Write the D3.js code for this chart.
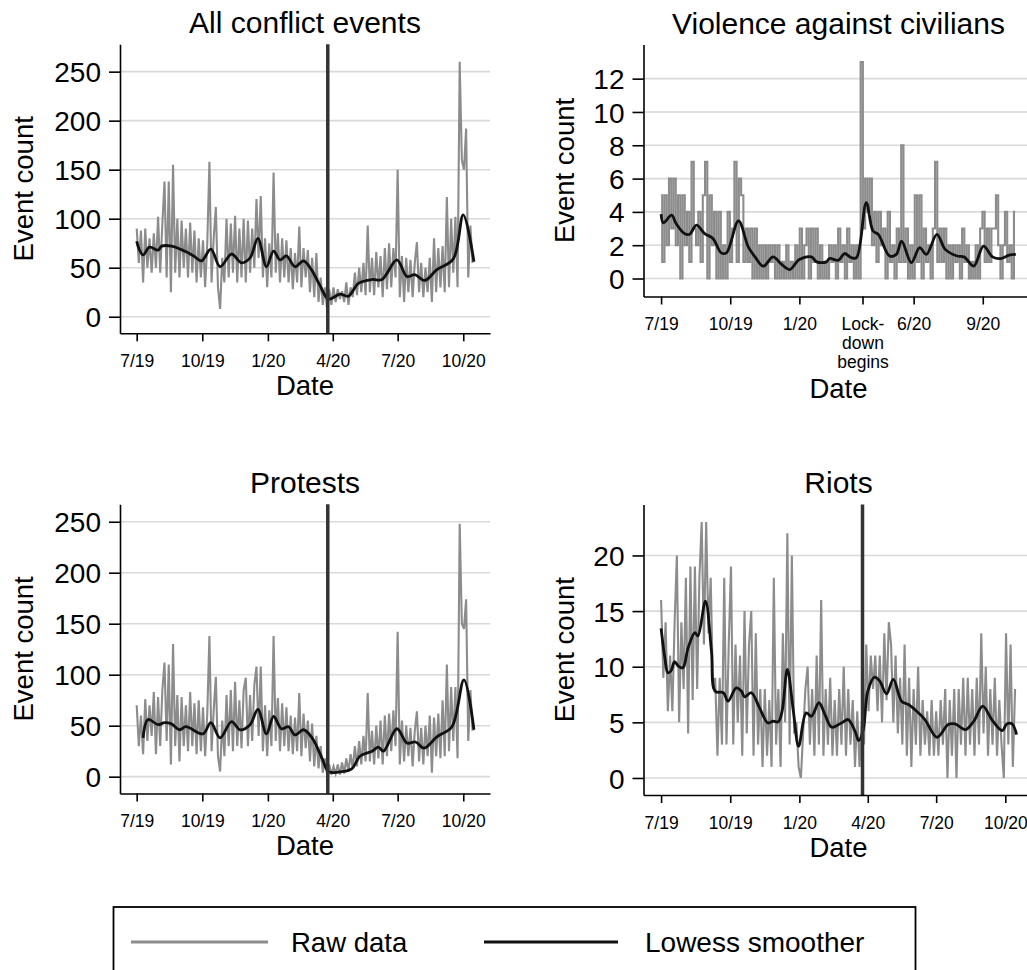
<!DOCTYPE html>
<html><head><meta charset="utf-8">
<script src="https://cdn.jsdelivr.net/npm/d3@7"></script>
<style>
body{margin:0;background:#fff}
svg{display:block}
text{font-family:"Liberation Sans",Arial,Helvetica,sans-serif;fill:#000}
</style>
</head><body>
<svg id="c" width="1027" height="970"></svg>
<script>
// ---------- DATA ----------
// Raw daily counts, sampled every 3 days starting 1 July 2019
const rawStepDays = 3;
const rawAllConflict = [90,55,88,35,90,50,80,45,85,50, 102,45,95,138,40,138,25,155,45,100, 40,98,50,90,40,96,45,88,35,80, 40,78,30,75,158,35,80,112,30,8, 60,35,100,40,95,45,103,35,90,40, 100,35,98,45,90,50,120,60,123,40, 80,30,75,40,147,45,85,35,80,40, 78,35,70,28,65,35,92,30,70,40, 68,25,60,20,65,15,40,12,30,8, 28,12,30,15,28,18,26,15,35,12, 30,20,45,22,50,25,55,22,93,25, 60,22,66,30,62,20,70,28,75,30, 70,40,150,20,62,15,60,25,58,20, 55,76,25,55,20,50,25,60,15,80, 25,70,30,72,25,122,30,100,45,102, 30,260,160,150,192,40,93,55];
const rawViolence = [5,1,5,2,6,3,6,2,5,0, 5,2,4,1,7,3,2,4,1,5, 7,0,5,2,4,0,4,0,2,0, 4,1,3,7,1,6,5,1,3,1, 3,0,3,0,2,0,2,0,2,1, 2,0,2,0,1,0,2,0,1,0, 2,0,3,0,2,3,0,3,1,3, 0,2,0,1,0,2,1,2,0,3, 1,2,0,3,1,2,0,2,0,13, 3,6,4,6,2,4,1,4,2,3, 0,4,1,2,0,3,1,8,1,3, 0,2,0,5,1,5,0,3,1,2, 0,3,7,1,3,1,3,0,2,0, 2,1,2,0,3,1,2,0,1,0, 2,0,3,4,1,3,1,3,3,5, 2,0,2,4,1,2,0,4];
const rawProtests = [70,30,60,22,76,35,70,40,83,22, 78,30,85,112,35,110,12,130,30,80, 15,78,30,70,25,83,30,72,22,75, 25,68,20,62,138,25,65,98,20,5, 55,20,80,30,85,25,93,30,75,28, 85,97,30,80,35,90,108,40,108,25, 70,20,65,30,138,35,77,25,72,30, 68,25,60,22,58,25,82,20,62,28, 55,15,52,10,40,8,30,4,18,2, 12,2,10,3,12,2,14,3,18,5, 22,8,30,10,35,12,40,15,82,15, 45,12,50,18,55,12,60,20,62,25, 65,30,142,12,55,15,50,20,48,10, 45,64,15,48,12,50,20,60,4,58, 20,62,18,75,20,110,25,88,35,88, 18,248,150,145,174,35,85,45];
const rawRiots = [16,9,14,6,11,6,14,20,5,14, 8,18,4,19,7,19,8,18,23,12, 23,13,18,8,9,2,9,3,18,3, 12,19,3,12,5,11,2,15,4,12, 15,2,13,3,8,1,8,2,7,1, 18,3,8,1,13,5,22,3,20,4, 5,1,0,4,8,10,3,8,2,11, 3,16,2,8,3,9,2,7,2,8, 3,10,2,8,3,7,1,6,1,5, 3,12,6,11,8,11,6,11,5,13, 7,14,12,5,11,4,9,3,12,2, 9,1,8,3,10,2,7,3,6,2, 7,2,6,2,7,3,8,0,7,2, 8,0,8,3,9,2,9,3,8,2, 9,3,13,4,10,2,8,3,9,2, 7,3,0,13,3,12,1,8];

// Lowess smoother: day offsets (from 1 July 2019) and values
const smoothAllDays = [0,4,9,18,30,35,49,67,80,91,104,117,133,147,159,170,182,192,201,210,222,234,245,257,269,285,297,311,330,344,365,379,390,404,421,444,458,473];
const smoothAll     = [77,68,63,71,68,72,72,67,62,57,69,51,64,55,60,80,51,67,58,62,51,57,48,32,18,23,21,34,38,38,58,41,43,37,48,59,104,56];
const smoothViolDays = [0,3,14,20,31,38,47,58,69,80,87,103,116,125,136,149,160,171,184,200,207,220,224,236,244,253,260,273,282,289,304,313,320,333,344,353,367,378,394,403,416,429,441,452,463,472];
const smoothViol     = [3.86,3.34,3.8,3.3,2.7,2.66,3.2,2.7,2.4,1.54,1.54,3.46,1.9,1.3,0.74,1.3,0.86,0.54,1.14,1.3,1.0,1.0,1.2,1.1,1.5,1.25,1.25,4.56,2.85,2.65,1.35,1.45,2.25,0.95,1.85,1.45,2.65,1.75,1.35,1.3,0.75,1.95,1.3,1.2,1.4,1.45];
const smoothProtDays = [9,16,30,39,48,60,69,93,104,117,133,145,159,170,182,192,203,213,222,234,246,260,269,288,302,313,330,339,346,365,379,391,403,421,442,459,473];
const smoothProt     = [38,56,51,53,52,46,49,42,53,38,54,46,51,66,42,59,47,49,41,46,38,18,5,5,8,20,25,29,25,47,33,34,28,39,49,95,46];
const smoothRiotDays = [0,5,9,13,18,23,29,36,45,49,59,67,72,83,89,100,107,111,120,131,142,149,156,161,168,176,183,193,200,210,218,227,240,249,258,263,269,275,284,291,300,309,320,329,340,351,367,382,391,405,416,428,440,454,460,467,473];
const smoothRiot     = [13.45,10.8,9.46,9.6,10.45,10.06,9.9,11.7,13.06,12.76,15.9,11.4,7.8,7.66,6.9,8.1,7.8,7.3,7.66,6.3,4.95,5.1,5.05,6.0,9.76,6.0,2.85,5.85,5.55,6.76,5.7,4.56,4.95,5.25,4.2,3.36,4.35,7.8,9.07,8.7,7.57,8.86,6.9,6.6,6.0,5.25,3.66,4.8,4.86,4.35,5.1,6.45,5.25,4.26,4.86,4.86,3.9];

// Tick values / labels
const yTicksBig = [0,50,100,150,200,250];
const yTicksViol = [0,2,4,6,8,10,12];
const yTicksRiot = [0,5,10,15,20];
const xTickDatesStd = ["2019-07-01","2019-10-01","2020-01-01","2020-04-01","2020-07-01","2020-10-01"];
const xTickLabelsStd = ["7/19","10/19","1/20","4/20","7/20","10/20"];
const xTickDatesViol = ["2019-07-01","2019-10-01","2020-01-01","2020-03-25","2020-06-01","2020-09-01"];
const xTickLabelsViol = [["7/19"],["10/19"],["1/20"],["Lock-","down","begins"],["6/20"],["9/20"]];
const lockdownDate = "2020-03-25";
const titles = ["All conflict events","Violence against civilians","Protests","Riots"];
const legendLabels = ["Raw data","Lowess smoother"];

// ---------- DRAW ----------
const DAY = 864e5;
const t0 = Date.UTC(2019,6,1);
const dayToDate = d => new Date(t0 + d*DAY);
const parseD = s => new Date(s + "T00:00:00Z");

const svg = d3.select("#c");
const FONT = '"Liberation Sans",Arial,Helvetica,sans-serif';

const panels = [
  {title:titles[0], raw:rawAllConflict, sd:smoothAllDays, sv:smoothAll, yTicks:yTicksBig, step:false,
   left:120, right:490, top:44.3, bottom:333.3, yDom:[-16.9,277.9], vline:true,
   tickDates:xTickDatesStd, tickLabels:xTickLabelsStd.map(l=>[l]), titleY:33, ylabX:32.7, dateY:395},
  {title:titles[1], raw:rawViolence, sd:smoothViolDays, sv:smoothViol, yTicks:yTicksViol, step:true,
   left:643.5, right:1033.5, top:44.5, bottom:296.5, yDom:[-1.08,14.05], vline:false,
   tickDates:xTickDatesViol, tickLabels:xTickLabelsViol, titleY:33.5, ylabX:573.7, dateY:398},
  {title:titles[2], raw:rawProtests, sd:smoothProtDays, sv:smoothProt, yTicks:yTicksBig, step:false,
   left:120, right:490, top:504.3, bottom:793.5, yDom:[-16.5,267.1], vline:true,
   tickDates:xTickDatesStd, tickLabels:xTickLabelsStd.map(l=>[l]), titleY:493, ylabX:32.7, dateY:855},
  {title:titles[3], raw:rawRiots, sd:smoothRiotDays, sv:smoothRiot, yTicks:yTicksRiot, step:false,
   left:643.5, right:1033.5, top:504.5, bottom:795, yDom:[-1.53,24.58], vline:true,
   tickDates:xTickDatesStd, tickLabels:xTickLabelsStd.map(l=>[l]), titleY:493, ylabX:573.7, dateY:857}
];

const xDomDays = [-23.4, 495.5];

panels.forEach(p => {
  const x = d3.scaleUtc().domain(xDomDays.map(dayToDate)).range([p.left, p.right]);
  const y = d3.scaleLinear().domain(p.yDom).range([p.bottom, p.top]);
  const g = svg.append("g");

  // gridlines
  g.selectAll("line.grid").data(p.yTicks).join("line")
    .attr("x1", p.left).attr("x2", p.right)
    .attr("y1", d => y(d)).attr("y2", d => y(d))
    .attr("stroke", "#d9d9d9").attr("stroke-width", 1.6);

  // raw data
  const rawLine = d3.line().curve(p.step ? d3.curveStep : d3.curveLinear)
    .x((d,i) => x(dayToDate(i*rawStepDays))).y(d => y(d));
  g.append("path").attr("d", rawLine(p.raw))
    .attr("fill","none").attr("stroke","#8c8c8c").attr("stroke-width",2.1).attr("stroke-linejoin","miter");

  // smoother
  const sm = p.sd.map((d,i) => [d, p.sv[i]]);
  const smLine = d3.line().curve(d3.curveCatmullRom.alpha(0.5))
    .x(d => x(dayToDate(d[0]))).y(d => y(d[1]));
  g.append("path").attr("d", smLine(sm))
    .attr("fill","none").attr("stroke","#111").attr("stroke-width",2.8).attr("stroke-linejoin","round");

  // lockdown line
  if (p.vline) {
    const lx = x(parseD(lockdownDate));
    g.append("line").attr("x1",lx).attr("x2",lx).attr("y1",p.top).attr("y2",p.bottom)
      .attr("stroke","#333").attr("stroke-width",3.5);
  }

  // y axis
  const ya = g.append("g").attr("transform", `translate(${p.left},0)`)
    .call(d3.axisLeft(y).tickValues(p.yTicks).tickSize(11).tickPadding(8).tickSizeOuter(0));
  ya.select(".domain").attr("stroke","#000").attr("stroke-width",1.6);
  ya.selectAll(".tick line").attr("stroke","#000").attr("stroke-width",1.6);
  ya.selectAll(".tick text").attr("font-size",28).attr("font-family",FONT).attr("fill","#000").attr("dy","0.36em");

  // x axis
  const dates = p.tickDates.map(parseD);
  const xa = g.append("g").attr("transform", `translate(0,${p.bottom})`)
    .call(d3.axisBottom(x).tickValues(dates).tickSize(8).tickPadding(13).tickSizeOuter(0).tickFormat(""));
  xa.select(".domain").attr("stroke","#000").attr("stroke-width",1.6);
  xa.selectAll(".tick line").attr("stroke","#000").attr("stroke-width",1.6);
  xa.selectAll(".tick text").each(function(d,i){
    const t = d3.select(this).attr("font-size",17.5).attr("font-family",FONT).attr("fill","#000").attr("dy",null).attr("y",null);
    t.text(null);
    p.tickLabels[i].forEach((ln,k) => {
      t.append("tspan").attr("x",0).attr("y", 8 + 13 + 12.5 + k*19).text(ln);
    });
  });

  // titles
  const cx = (p.left + p.right)/2;
  svg.append("text").attr("x",cx).attr("y",p.titleY).attr("text-anchor","middle")
    .attr("font-size",30).text(p.title);
  svg.append("text").attr("x",cx).attr("y",p.dateY).attr("text-anchor","middle")
    .attr("font-size",27.5).text("Date");
  svg.append("text").attr("transform",`translate(${p.ylabX},${(p.top+p.bottom)/2}) rotate(-90)`)
    .attr("text-anchor","middle").attr("font-size",27.5).text("Event count");
});

// legend
const lg = svg.append("g");
lg.append("rect").attr("x",113.5).attr("y",907).attr("width",802).attr("height",90)
  .attr("fill","none").attr("stroke","#000").attr("stroke-width",1.8);
lg.append("line").attr("x1",131).attr("x2",268).attr("y1",942).attr("y2",942)
  .attr("stroke","#8c8c8c").attr("stroke-width",3);
lg.append("text").attr("x",291).attr("y",952).attr("font-size",27.5).text(legendLabels[0]);
lg.append("line").attr("x1",484).attr("x2",618).attr("y1",942).attr("y2",942)
  .attr("stroke","#111").attr("stroke-width",3);
lg.append("text").attr("x",645).attr("y",952).attr("font-size",28).text(legendLabels[1]);
</script>
</body></html>
